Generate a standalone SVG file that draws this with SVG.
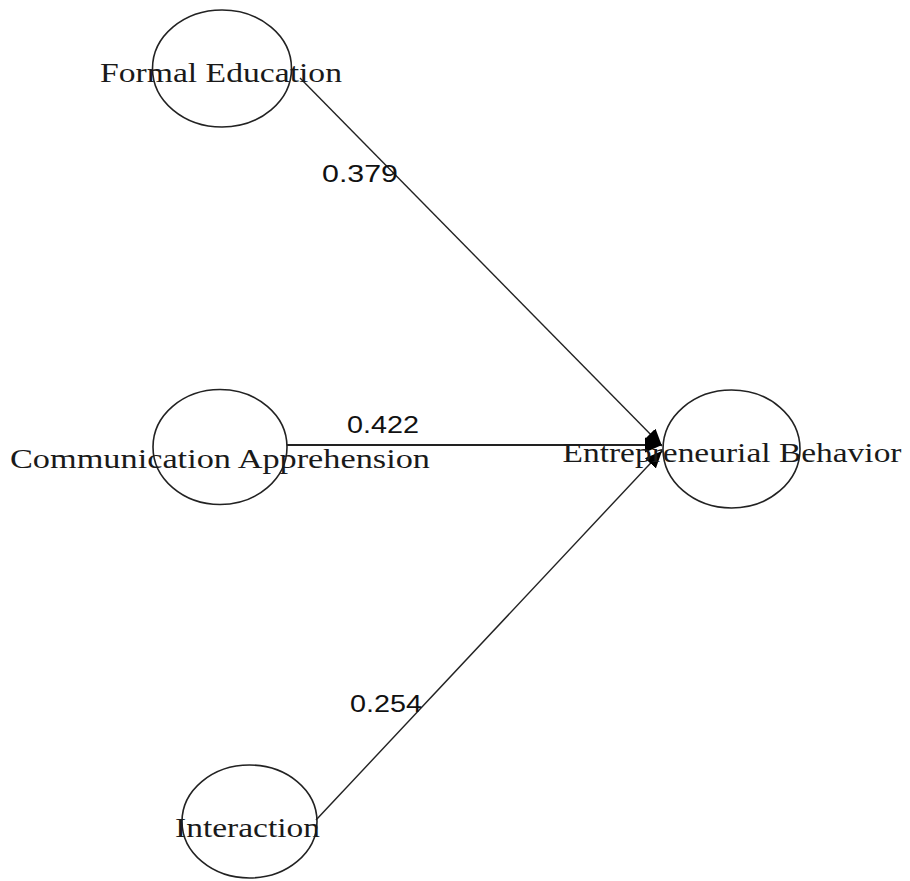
<svg xmlns="http://www.w3.org/2000/svg" width="910" height="881" viewBox="0 0 910 881">
  <style>
    .node ellipse { fill: none; stroke: #222; stroke-width: 1.6; }
    .node text { font-family: "Liberation Serif", "Times New Roman", serif; font-size: 28px; fill: #1a1a1a; text-anchor: middle; }
    .edge { stroke: #222; stroke-width: 1.4; fill: none; marker-end: url(#arrow); }
    .weight { font-family: "Liberation Sans", Arial, sans-serif; font-size: 24.5px; fill: #111; }
  </style>
  <defs>
    <marker id="arrow" markerUnits="userSpaceOnUse" markerWidth="18" markerHeight="18" refX="17" refY="9" orient="auto">
      <path d="M0,1.5 L17,9 L0,16.5 Z" fill="#000"/>
    </marker>
  </defs>
  <rect width="910" height="881" fill="#fff"/>

  <!-- path edges with standardized coefficients -->
  <g id="edges">
    <line class="edge" x1="300" y1="78" x2="662" y2="446"/>
    <line class="edge" x1="287" y1="445" x2="662" y2="445" style="stroke-width:2"/>
    <line class="edge" x1="316" y1="820" x2="662" y2="451"/>
    <text class="weight" x="322" y="182" textLength="76" lengthAdjust="spacingAndGlyphs">0.379</text>
    <text class="weight" x="347" y="433" textLength="72" lengthAdjust="spacingAndGlyphs">0.422</text>
    <text class="weight" x="350" y="712" textLength="72" lengthAdjust="spacingAndGlyphs">0.254</text>
  </g>

  <g id="formal-education" class="node">
    <ellipse cx="222" cy="68.5" rx="69.5" ry="58.5"/>
    <text x="221" y="82" textLength="242" lengthAdjust="spacingAndGlyphs">Formal Education</text>
  </g>

  <g id="communication-apprehension" class="node">
    <ellipse cx="220" cy="447" rx="67" ry="57.5"/>
    <text x="220" y="468" textLength="420" lengthAdjust="spacingAndGlyphs">Communication Apprehension</text>
  </g>

  <g id="entrepreneurial-behavior" class="node">
    <ellipse cx="731.5" cy="449" rx="68.5" ry="59"/>
    <text x="732" y="462" textLength="339" lengthAdjust="spacingAndGlyphs">Entrepreneurial Behavior</text>
  </g>

  <g id="interaction" class="node">
    <ellipse cx="249.5" cy="821.5" rx="67.5" ry="56.5"/>
    <text x="247.5" y="837" textLength="145" lengthAdjust="spacingAndGlyphs">Interaction</text>
  </g>
</svg>
